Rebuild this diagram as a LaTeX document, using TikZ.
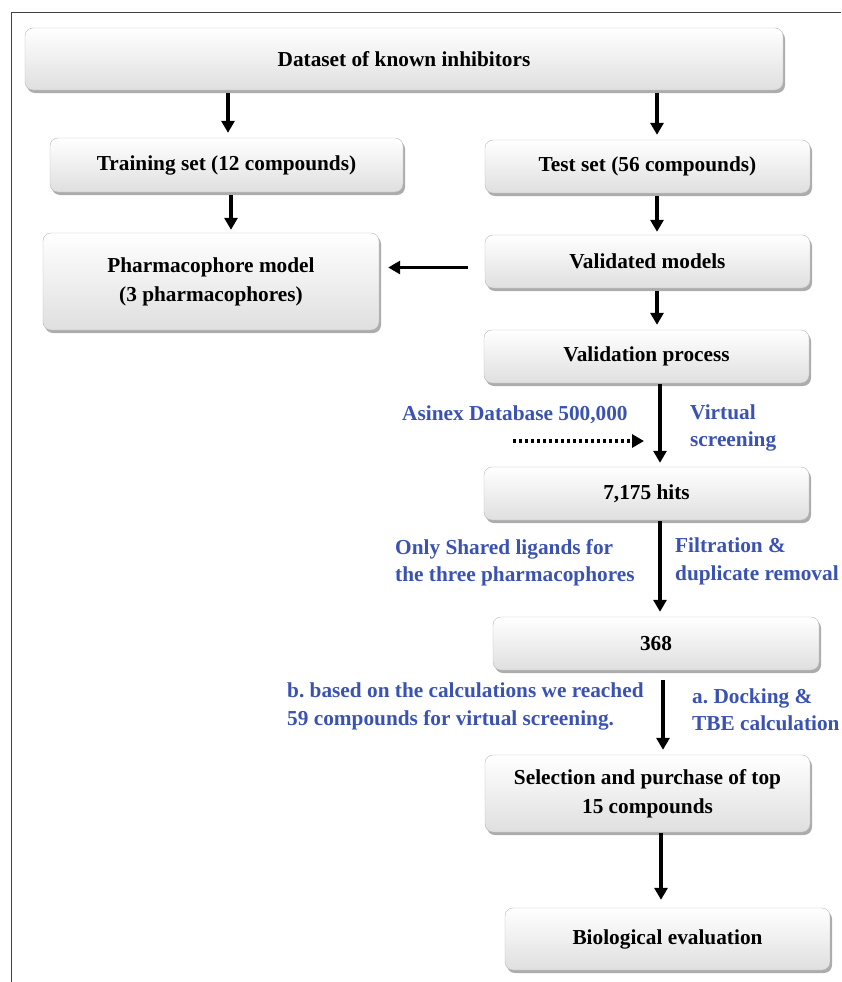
\documentclass[tikz,border=0pt]{standalone}
\usepackage{fontspec}
\setmainfont{Liberation Serif}
\usetikzlibrary{arrows.meta,shadows}
\definecolor{labelblue}{RGB}{58,82,178}
\frenchspacing

\begin{document}
\begin{tikzpicture}[x=1pt,y=-1pt,
  box/.style={draw=gray!55,rounded corners=8pt,top color=white,bottom color=gray!25,
    drop shadow={shadow xshift=2pt,shadow yshift=-3pt,fill=gray!65,opacity=1},
    font=\fontsize{21.3}{29}\selectfont\bfseries,align=center,inner sep=0pt},
  note/.style={text=labelblue,font=\fontsize{21.3}{27.5}\selectfont\bfseries,align=left,inner sep=0pt,anchor=west},
  flow/.style={line width=3.5pt,-{Triangle[length=12pt,width=13pt]}}]
  \useasboundingbox (0,0) rectangle (841,982);
  \draw[line width=1pt,black!75] (11,982)--(11,13)--(841,13);
  % boxes
  \node[box,minimum width=758pt,minimum height=62pt] (data) at (404,59) {Dataset of known inhibitors};
  \node[box,minimum width=353pt,minimum height=54pt] (train) at (226.5,165) {Training set (12 compounds)};
  \node[box,minimum width=325pt,minimum height=53pt] (test) at (647.5,166.5) {Test set (56 compounds)};
  \node[box,minimum width=336pt,minimum height=97pt] (pharm) at (211,281.5) {Pharmacophore model\\(3 pharmacophores)};
  \node[box,minimum width=325pt,minimum height=53pt] (valid) at (647.5,261.5) {Validated models};
  \node[box,minimum width=325pt,minimum height=53pt] (process) at (646.5,356.5) {Validation process};
  \node[box,minimum width=325pt,minimum height=53pt] (hits) at (646.5,493.5) {7,175 hits};
  \node[box,minimum width=326pt,minimum height=53pt] (n368) at (656,643.5) {368};
  \node[box,minimum width=325pt,minimum height=77pt] (select) at (647.5,793.5) {Selection and purchase of top\\15 compounds};
  \node[box,minimum width=325pt,minimum height=62pt] (bio) at (667.5,939) {Biological evaluation};
  % blue notes
  \node[note] (asinex) at (402,415) {Asinex Database 500,000};
  \node[note] (virtual) at (690,428) {Virtual\\screening};
  \node[note] (shared) at (395,563) {Only Shared ligands for\\the three pharmacophores};
  \node[note] (filt) at (675,561.5) {Filtration \&\\duplicate removal};
  \node[note] (based) at (287,706.5) {b. based on the calculations we reached\\59 compounds for virtual screening.};
  \node[note] (dock) at (692,709.5) {a. Docking \&\\TBE calculation};
  \coordinate (dotfrom) at (513,441);
  \coordinate (dotto) at (644,441);
  % arrows
  \draw[flow,shorten <=3pt,shorten >=5pt] ([xshift=1.5pt]data.south -| train.north) -- ([xshift=1.5pt]train.north);
  \draw[flow,shorten <=3pt,shorten >=5pt] ([xshift=9.5pt]data.south -| test.north) -- ([xshift=9.5pt]test.north);
  \draw[flow,shorten <=3pt,shorten >=3pt] ([xshift=4.5pt]train.south) -- ([xshift=4.5pt]train.south |- pharm.north);
  \draw[flow,shorten <=3pt,shorten >=3pt] ([xshift=9.5pt]test.south) -- ([xshift=9.5pt]valid.north);
  \draw[flow,shorten <=17pt,shorten >=9pt] ([yshift=-6pt]valid.west) -- ([yshift=-6pt]valid.west -| pharm.east);
  \draw[flow,shorten <=3pt,shorten >=5pt] ([xshift=9.5pt]valid.south) -- ([xshift=9.5pt]valid.south |- process.north);
  \draw[flow,shorten <=1pt,shorten >=4pt] ([xshift=13.5pt]process.south) -- ([xshift=13.5pt]process.south |- hits.north);
  \draw[flow,shorten <=1pt,shorten >=5pt] ([xshift=13.5pt]hits.south) -- ([xshift=13.5pt]hits.south |- n368.north);
  \draw[flow,shorten <=10pt,shorten >=5pt] ([xshift=7pt]n368.south) -- ([xshift=7pt]n368.south |- select.north);
  \draw[flow,shorten <=1pt,shorten >=8pt] ([xshift=13.5pt]select.south) -- ([xshift=13.5pt]select.south |- bio.north);
  \draw[line width=3.5pt,dash pattern=on 3pt off 3pt,-{Triangle[length=12pt,width=13pt]}] (dotfrom) -- (dotto);
\end{tikzpicture}
\end{document}
